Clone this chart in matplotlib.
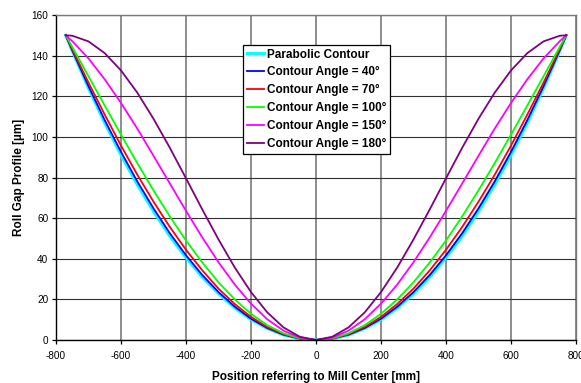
import matplotlib
matplotlib.use('Agg')
import matplotlib.pyplot as plt
import numpy as np

# half profile (x >= 0), the gap is symmetric about the mill center
pos_half = [0, 50, 100, 150, 200, 250, 300, 350, 400, 450, 500, 550, 600, 650, 700, 750, 770]
parabolic = [0.0, 0.6, 2.5, 5.7, 10.1, 15.8, 22.8, 31.0, 40.5, 51.2, 63.3, 76.5, 91.1, 106.9, 124.0, 142.3, 150.0]
angle_40 = [0.0, 0.7, 2.6, 5.9, 10.5, 16.4, 23.6, 32.0, 41.7, 52.6, 64.8, 78.1, 92.6, 108.2, 124.9, 142.6, 150.0]
angle_70 = [0.0, 0.7, 2.9, 6.4, 11.4, 17.7, 25.3, 34.3, 44.4, 55.7, 68.1, 81.4, 95.7, 110.9, 126.7, 143.2, 150.0]
angle_100 = [0.0, 0.8, 3.3, 7.3, 12.9, 20.0, 28.4, 38.2, 49.0, 60.9, 73.7, 87.1, 101.1, 115.4, 129.8, 144.3, 150.0]
angle_150 = [0.0, 1.2, 4.6, 10.2, 17.9, 27.3, 38.3, 50.5, 63.6, 77.1, 90.7, 104.1, 116.7, 128.3, 138.6, 147.1, 150.0]
angle_180 = [0.0, 1.6, 6.2, 13.6, 23.6, 35.7, 49.5, 64.3, 79.6, 94.7, 108.9, 121.8, 132.7, 141.2, 147.0, 149.8, 150.0]

labels = ['Parabolic Contour', 'Contour Angle = 40°', 'Contour Angle = 70°',
          'Contour Angle = 100°', 'Contour Angle = 150°', 'Contour Angle = 180°']
colors = ['#00FFFF', '#0000FF', '#FF0000', '#00FF00', '#FF00FF', '#800080']
series = [parabolic, angle_40, angle_70, angle_100, angle_150, angle_180]

plt.rcParams['font.family'] = ['Liberation Sans', 'DejaVu Sans']
plt.rcParams['axes.unicode_minus'] = False

fig = plt.figure(figsize=(5.81, 3.83), dpi=100)
ax = fig.add_axes([56 / 581, 1 - 340 / 383, 520 / 581, 325 / 383])

pos_half = np.array(pos_half)
x = np.concatenate([-pos_half[::-1], pos_half[1:]])
for vals, lab, col in zip(series, labels, colors):
    v = np.array(vals)
    y = np.concatenate([v[::-1], v[1:]])
    lw = 2.2 if lab.startswith('Parabolic') else 1.3
    ax.plot(x, y, color=col, lw=lw, label=lab)

ax.set_xlim(-800, 800)
ax.set_ylim(0, 160)
ax.set_xticks(np.arange(-800, 801, 200))
ax.set_yticks(np.arange(0, 161, 20))
ax.grid(True, axis='x', color='#7a7a7a', lw=1.2)
ax.grid(True, axis='y', color='#303030', lw=0.8)
ax.set_axisbelow(True)
for s in ['top', 'right']:
    ax.spines[s].set_color('#7a7a7a')
    ax.spines[s].set_linewidth(1.0)
for s in ['left', 'bottom']:
    ax.spines[s].set_color('black')
    ax.spines[s].set_linewidth(1.0)
ax.tick_params(direction='out', length=3, width=0.9, labelsize=7.2)
ax.tick_params(axis='x', pad=5)
ax.tick_params(axis='y', pad=2.5)

ax.set_xlabel('Position referring to Mill Center [mm]', fontsize=8.5, fontweight='bold', labelpad=7)
ax.set_ylabel('Roll Gap Profile [µm]', fontsize=8.5, fontweight='bold', labelpad=5)

leg = ax.legend(loc='upper left', bbox_to_anchor=(187 / 520, (340 - 45) / 325),
                prop={'size': 8.5, 'weight': 'bold'}, fancybox=False, framealpha=1,
                edgecolor='black', handlelength=1.45, handletextpad=0.25,
                labelspacing=0.5, borderpad=0.3, borderaxespad=0)
leg.get_frame().set_linewidth(0.9)

fig.savefig('out.png', dpi=100)
